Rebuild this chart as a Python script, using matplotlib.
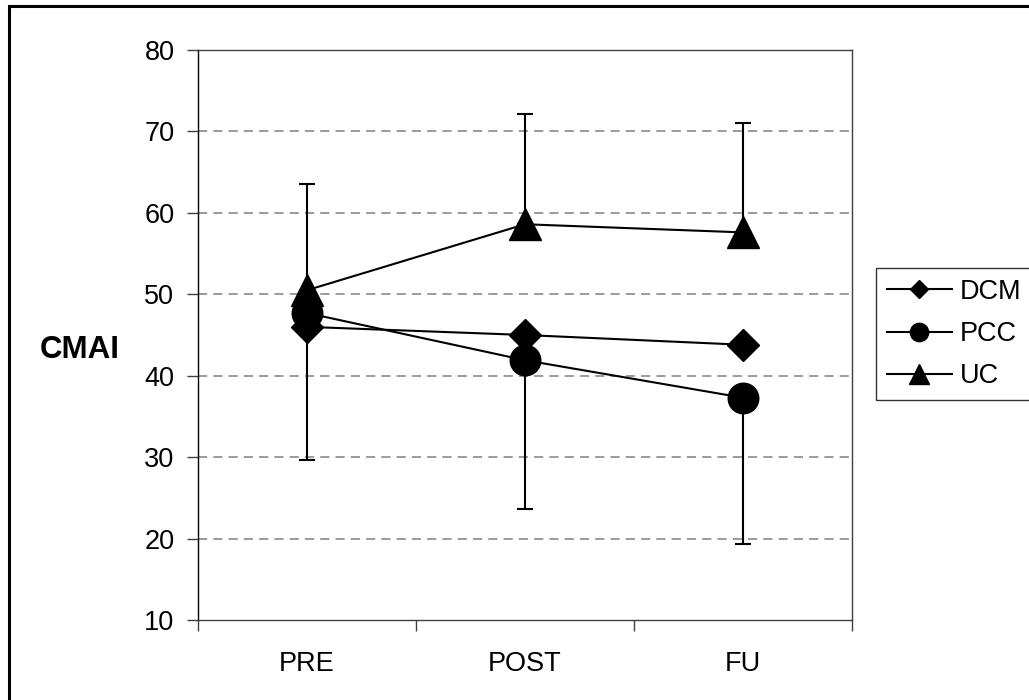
import matplotlib.pyplot as plt
from matplotlib.patches import Rectangle

plt.rcParams["font.family"] = ["Liberation Sans", "DejaVu Sans"]

phases = ["PRE", "POST", "FU"]
dcm = [46.0, 45.0, 43.8]
pcc = [47.7, 41.9, 37.3]
uc = [50.5, 58.6, 57.6]
uc_plus = [13.1, 13.6, 13.4]     # upper error bars (UC)
pcc_minus = [18.0, 18.3, 18.0]   # lower error bars (PCC)
yticks = [10, 20, 30, 40, 50, 60, 70, 80]

W, H = 1029, 700
fig = plt.figure(figsize=(W / 100, H / 100), dpi=100)
ax = fig.add_axes([198 / W, 1 - 620 / H, (852 - 198) / W, (620 - 50) / H])

x = list(range(len(phases)))

# error bars
ax.errorbar(x, uc, yerr=[[0] * 3, uc_plus], fmt="none", ecolor="black",
            elinewidth=1.5, capsize=6, capthick=1.5, zorder=3)
ax.errorbar(x, pcc, yerr=[pcc_minus, [0] * 3], fmt="none", ecolor="black",
            elinewidth=1.5, capsize=6, capthick=1.5, zorder=3)

ax.plot(x, dcm, color="black", lw=1.5, marker="D", ms=16, label="DCM", zorder=4)
ax.plot(x, pcc, color="black", lw=1.5, marker="o", ms=22, label="PCC", zorder=4)
ax.plot(x, uc, color="black", lw=1.5, marker="^", ms=23, label="UC", zorder=4)

ax.set_xlim(-0.5, len(phases) - 0.5)
ax.set_ylim(10, 80)
ax.set_yticks(yticks)
ax.set_xticks(x)
ax.set_xticklabels(phases)
ax.set_xticks([i - 0.5 for i in range(len(phases) + 1)], minor=True)
ax.tick_params(axis="x", which="major", length=0, pad=22, labelsize=19.5)
ax.tick_params(axis="x", which="minor", length=8, width=1, color="#404040")
ax.tick_params(axis="y", length=8, width=1, color="#404040", pad=9, labelsize=19.5)

for v in yticks[1:-1]:
    ax.axhline(v, color="#808080", lw=1.1, ls=(0, (6, 4)), zorder=1)

for s in ax.spines.values():
    s.set_color("#404040")
    s.set_linewidth(1.0)
ax.spines["left"].set_color("black")

ax.set_ylabel("CMAI", rotation=0, fontsize=22.5, fontweight="bold", labelpad=0)
ax.yaxis.set_label_coords(80 / W, 0.5, transform=fig.transFigure)
ax.yaxis.label.set_verticalalignment("center")
ax.yaxis.label.set_horizontalalignment("center")

leg = ax.legend(loc="upper left", bbox_to_anchor=(876 / W, 1 - 268 / H),
                bbox_transform=fig.transFigure, borderaxespad=0, fontsize=19.5,
                markerscale=0.6, handlelength=2.4, handletextpad=0.3,
                labelspacing=0.6, borderpad=0.4, fancybox=False)
leg.get_frame().set_edgecolor("black")
leg.get_frame().set_linewidth(1.0)

# outer chart border (only left and top visible)
fig.add_artist(Rectangle((9 / W, -0.1), 1.2, 1.1 - 6 / H, fill=False,
                         lw=2.2, edgecolor="black", transform=fig.transFigure))

fig.savefig("out.png", dpi=100)
